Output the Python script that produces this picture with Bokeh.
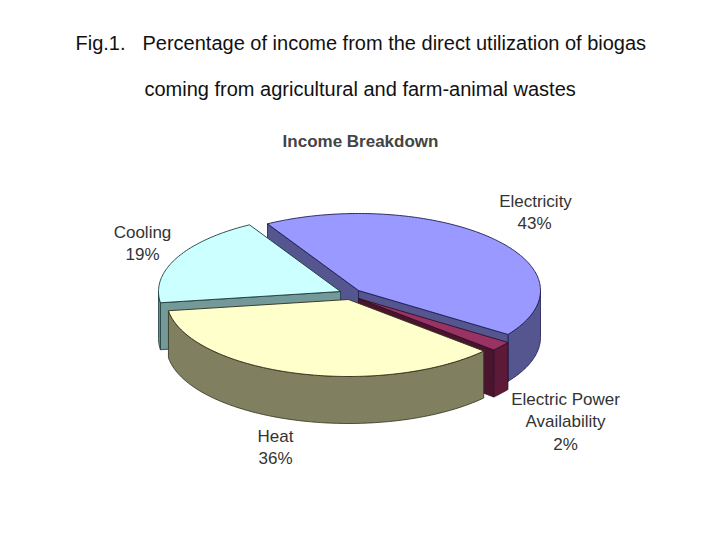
import numpy as np
from bokeh.plotting import figure
from bokeh.models import Range1d
from bokeh.core.properties import value
from bokeh.embed import file_html
from bokeh.resources import INLINE

# Data
categories = ["Electricity", "Electric Power Availability", "Heat", "Cooling"]
percent = [43, 2, 36, 19]

# Style
top_colors = ["#9999ff", "#993366", "#ffffcc", "#ccffff"]
side_colors = ["#55558f", "#5c1a38", "#808060", "#739999"]
face_colors = ["#55558f", "#4a142e", "#808060", "#739999"]
edge_colors = ["#1c1c50", "#30101f", "#30301c", "#1c3a3a"]

# Layout (pixel space of the picture)
centers = {"Electricity": (358, 290),
           "Electric Power Availability": (358, 298),
           "Heat": (348, 299),
           "Cooling": (340, 291)}
RX, RY, DEPTH = 182, 77, 47
START_ANGLE = -120.0
draw_order = [0, 3, 1, 2]

W, H = 704, 524
p = figure(width=W, height=H, output_backend="svg", toolbar_location=None,
           x_range=Range1d(0, W), y_range=Range1d(H, 0),
           min_border=0, background_fill_color="white", border_fill_color="white")
p.axis.visible = False
p.grid.visible = False
p.outline_line_color = None

# Angles come from the percentages, clockwise on screen
cum = np.cumsum([0] + percent) * 3.6 + START_ANGLE


def arc(cx, cy, a0, a1, dy=0.0):
    t = np.radians(np.linspace(a0, a1, max(int(abs(a1 - a0)) + 2, 4)))
    return cx + RX * np.cos(t), cy + RY * np.sin(t) + dy


for i in draw_order:
    a0, a1 = cum[i], cum[i + 1]
    cx, cy = centers[categories[i]]
    edge = edge_colors[i]
    # outer rim: the part of the wedge on the front half of the ellipse
    for lo, hi in ((a0, a1), (a0 - 360, a1 - 360)):
        s, e = max(lo, 0.0), min(hi, 180.0)
        if e > s:
            xt, yt = arc(cx, cy, s, e)
            xb, yb = arc(cx, cy, s, e, DEPTH)
            p.patch(np.r_[xt, xb[::-1]], np.r_[yt, yb[::-1]], fill_color=side_colors[i],
                    line_color=edge, line_width=0.8)
    # cut faces that look towards the viewer
    for ang, visible in ((a0, np.cos(np.radians(a0)) < 0), (a1, np.cos(np.radians(a1)) > 0)):
        if visible:
            ex = cx + RX * np.cos(np.radians(ang))
            ey = cy + RY * np.sin(np.radians(ang))
            p.patch([cx, ex, ex, cx], [cy, ey, ey + DEPTH, cy + DEPTH],
                    fill_color=face_colors[i], line_color=edge, line_width=0.8)
    # top
    xa, ya = arc(cx, cy, a0, a1)
    p.patch(np.r_[cx, xa], np.r_[cy, ya], fill_color=top_colors[i],
            line_color=edge, line_width=0.9)


def label(x, y, txt, size, color="#333333", align="center", style="normal", font="Liberation Sans"):
    p.text([x], [y], text=[txt], text_font=value(font), text_font_size=size,
           text_color=color, text_align=align, text_baseline="middle", text_font_style=style)


label(75, 42, "Fig.1.", "20px", "#111111", "left")
label(142, 42, "Percentage of income from the direct utilization of biogas", "20px", "#111111", "left")
label(144, 88, "coming from agricultural and farm-animal wastes", "20px", "#111111", "left")
label(360, 141, "Income Breakdown", "17px", "#444444", style="bold")

label(535, 201, "Electricity", "17px")
label(534, 223, f"{percent[0]}%", "17px")
label(142, 232, "Cooling", "17px")
label(142, 254, f"{percent[3]}%", "17px")
label(275, 436, "Heat", "17px")
label(275, 458, f"{percent[2]}%", "17px")
label(565, 399, "Electric Power", "17px")
label(565, 421, "Availability", "17px")
label(565, 444, f"{percent[1]}%", "17px")

open("out.html", "w").write(file_html(p, INLINE))
